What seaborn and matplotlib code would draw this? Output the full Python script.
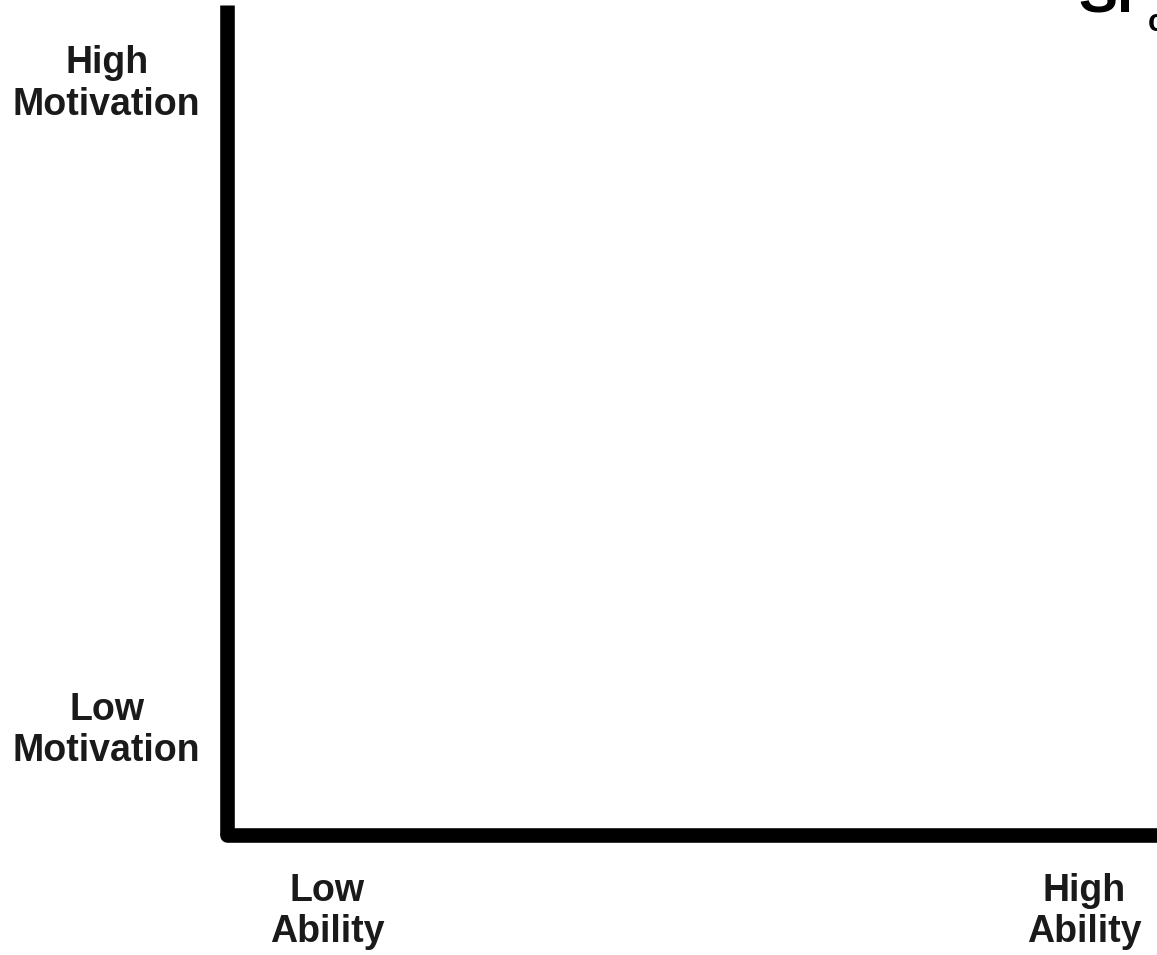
import matplotlib
matplotlib.use('Agg')

import matplotlib.pyplot as plt
import seaborn as sns

# ── Chart content ──────────────────────────────────────────────────────────
ability_pos = [0.108, 0.922]
ability_labels = ["Low\nAbility", "High\nAbility"]

motivation_pos = [0.134, 0.913]
motivation_labels = ["Low\nMotivation", "High\nMotivation"]

sns.set_style("white")
plt.rcParams['font.family'] = ['Liberation Sans', 'DejaVu Sans']

fig = plt.figure(figsize=(11.57, 9.55), dpi=100)
ax = fig.add_axes([227 / 1157, 120 / 955, 1 - 227 / 1157, 830 / 955])

ax.set_xlim(0, 1)
ax.set_ylim(0, 1)

sns.despine(ax=ax, top=True, right=True)

for side in ['left', 'bottom']:
    ax.spines[side].set_linewidth(10.5)
    ax.spines[side].set_color('black')
ax.spines['left'].set_capstyle('butt')
ax.spines['bottom'].set_capstyle('round')

ax.set_xticks(ability_pos)
ax.set_xticklabels(ability_labels, fontsize=27, fontweight='bold')
ax.set_yticks(motivation_pos)
ax.set_yticklabels(motivation_labels, fontsize=27, fontweight='bold')

for lab in ax.get_xticklabels() + ax.get_yticklabels():
    lab.set_multialignment('center')
    lab.set_color('#1a1a1a')

ax.tick_params(axis='x', length=0, pad=27)
ax.tick_params(axis='y', length=0, pad=19)

# cropped logo fragment in the top-right corner
fig.text(1078 / 1157, 1 - 12 / 955, "Sl", fontsize=42, fontweight='bold',
         ha='left', va='baseline', color='black')
fig.text(1149 / 1157, 1 - 8 / 955, "•", fontsize=20, fontweight='bold',
         ha='left', va='bottom', color='#8fd400')
fig.text(1148 / 1157, 1 - 38 / 955, "c", fontsize=22, fontweight='bold',
         ha='left', va='bottom', color='black')

fig.savefig("out.png", dpi=100)
plt.close(fig)
